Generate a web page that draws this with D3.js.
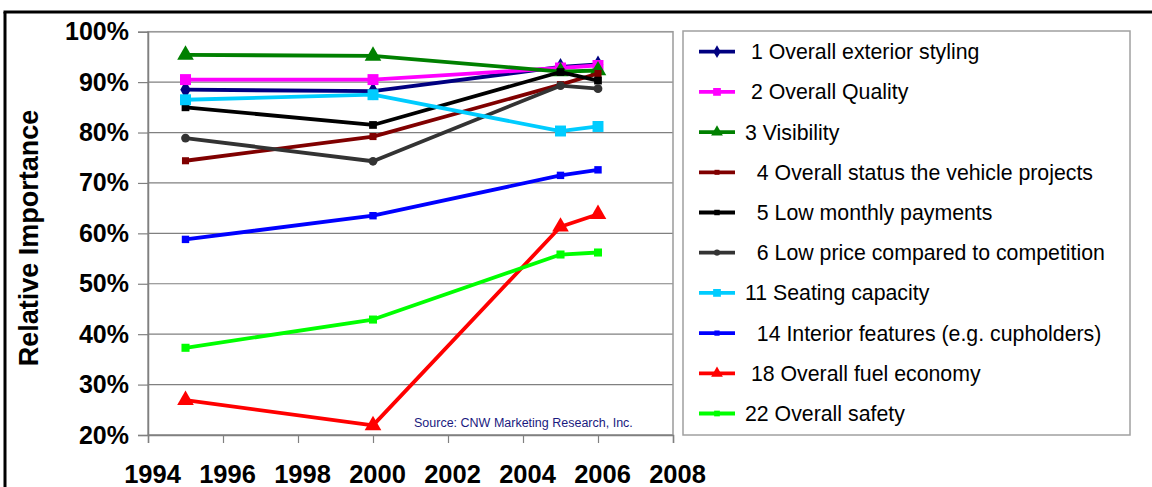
<!DOCTYPE html>
<html>
<head>
<meta charset="utf-8">
<script src="https://cdn.jsdelivr.net/npm/d3@7"></script>
<style>
  body { margin: 0; background: #fff; }
  text { font-family: Arial, "Liberation Sans", sans-serif; }
</style>
</head>
<body>
<script>
// survey years
const years = [1995, 2000, 2005, 2006];

// relative importance (%) per attribute
const exteriorStyling = [88.5, 88.2, 93.0, 93.5];
const overallQuality  = [90.5, 90.5, 92.8, 93.3];
const visibility      = [95.4, 95.2, 92.1, 92.3];
const statusProjects  = [74.4, 79.2, 89.5, 91.7];
const monthlyPayments = [85.0, 81.5, 92.0, 90.3];
const lowPrice        = [78.9, 74.3, 89.3, 88.7];
const seatingCapacity = [86.5, 87.5, 80.3, 81.2];
const interiorFeatures= [58.8, 63.5, 71.5, 72.6];
const fuelEconomy     = [26.9, 21.9, 61.3, 63.8];
const overallSafety   = [37.3, 42.9, 55.8, 56.2];

const seriesNames = [
  " 1 Overall exterior styling",
  " 2 Overall Quality",
  "3 Visibility",
  "  4 Overall status the vehicle projects",
  "  5 Low monthly payments",
  "  6 Low price compared to competition",
  "11 Seating capacity",
  "  14 Interior features (e.g. cupholders)",
  " 18 Overall fuel economy",
  "22 Overall safety"
];

const yTicks = [20, 30, 40, 50, 60, 70, 80, 90, 100];
const xTicks = [1994, 1996, 1998, 2000, 2002, 2004, 2006, 2008];

const allValues = [exteriorStyling, overallQuality, visibility, statusProjects, monthlyPayments,
                   lowPrice, seatingCapacity, interiorFeatures, fuelEconomy, overallSafety];

// look of each series: colour, symbol, symbol area
const looks = [
  {c: "#000080", s: d3.symbolDiamond, a: 95},
  {c: "#FF00FF", s: d3.symbolSquare, a: 120},
  {c: "#008000", s: d3.symbolTriangle, a: 120},
  {c: "#800000", s: d3.symbolSquare, a: 50},
  {c: "#000000", s: d3.symbolSquare, a: 60},
  {c: "#333333", s: d3.symbolCircle, a: 60},
  {c: "#00CCFF", s: d3.symbolSquare, a: 120},
  {c: "#0000FF", s: d3.symbolSquare, a: 55},
  {c: "#FF0000", s: d3.symbolTriangle, a: 120},
  {c: "#00FF00", s: d3.symbolSquare, a: 65}
];

const W = 1152, H = 487;
const plotL = 148, plotR = 673, plotT = 31.7, plotB = 435;

var svg = d3.select("body").append("svg")
  .attr("width", W).attr("height", H);

svg.append("rect").attr("width", W).attr("height", H).attr("fill", "#fff");

// outer frame (top + left only visible)
svg.append("line").attr("x1", 3.5).attr("x2", W).attr("y1", 12).attr("y2", 12)
  .attr("stroke", "#000").attr("stroke-width", 3);
svg.append("line").attr("x1", 5).attr("x2", 5).attr("y1", 12).attr("y2", H)
  .attr("stroke", "#000").attr("stroke-width", 3);

var x = d3.scaleLinear().domain([1994, 2008]).range([plotL, plotR]);
var y = d3.scaleLinear().domain([20, 100]).range([plotB, plotT]);

// gridlines
svg.append("g").selectAll("line").data(yTicks).enter().append("line")
  .attr("x1", plotL).attr("x2", plotR)
  .attr("y1", d => y(d)).attr("y2", d => y(d))
  .attr("stroke", "#808080").attr("stroke-width", 1.2);

// plot border
svg.append("rect").attr("x", plotL).attr("y", plotT)
  .attr("width", plotR - plotL).attr("height", plotB - plotT)
  .attr("fill", "none").attr("stroke", "#9a9a9a").attr("stroke-width", 1.5);

// y axis
var yAxis = svg.append("g").attr("transform", "translate(" + plotL + ",0)")
  .call(d3.axisLeft(y).tickValues(yTicks).tickSize(10).tickPadding(9)
    .tickFormat(d => d + "%"));
yAxis.select(".domain").attr("stroke", "#808080").attr("stroke-width", 1.5);
yAxis.selectAll(".tick line").attr("stroke", "#808080").attr("stroke-width", 1.2);
yAxis.selectAll("text").attr("font-size", 25).attr("font-weight", "bold")
  .attr("fill", "#000").attr("font-family", "Arial, 'Liberation Sans', sans-serif");

// x axis
var xAxis = svg.append("g").attr("transform", "translate(0," + plotB + ")")
  .call(d3.axisBottom(x).tickValues(xTicks).tickSize(8).tickPadding(22)
    .tickFormat(d3.format("d")));
xAxis.select(".domain").attr("stroke", "#808080").attr("stroke-width", 1.5);
xAxis.selectAll(".tick line").attr("stroke", "#808080").attr("stroke-width", 1.2);
xAxis.selectAll("text").attr("font-size", 25.5).attr("font-weight", "bold")
  .attr("fill", "#000").attr("dx", 4)
  .attr("font-family", "Arial, 'Liberation Sans', sans-serif");

// y title
svg.append("text")
  .attr("transform", "translate(38,238) rotate(-90)")
  .attr("text-anchor", "middle")
  .attr("font-size", 27).attr("font-weight", "bold")
  .text("Relative Importance");

// source note
svg.append("text").attr("x", 414).attr("y", 427)
  .attr("font-size", 12.5).attr("fill", "#1a1a80")
  .text("Source: CNW Marketing Research, Inc.");

var line = d3.line().x(d => x(d.year)).y(d => y(d.value));

var series = allValues.map(function(vals, i) {
  return { name: seriesNames[i], look: looks[i],
           points: years.map((yr, j) => ({year: yr, value: vals[j]})) };
});

var groups = svg.append("g").selectAll("g").data(series).enter().append("g");

groups.append("path")
  .attr("d", d => line(d.points))
  .attr("fill", "none")
  .attr("stroke", d => d.look.c)
  .attr("stroke-width", 3.8)
  .attr("stroke-linejoin", "round");

groups.each(function(d) {
  d3.select(this).selectAll("path.m").data(d.points).enter().append("path")
    .attr("class", "m")
    .attr("d", d3.symbol().type(d.look.s).size(d.look.a))
    .attr("transform", p => "translate(" + x(p.year) + "," + y(p.value) + ")")
    .attr("fill", d.look.c);
});

// legend
var lgX = 683, lgY = 31, lgW = 447, lgH = 404;
svg.append("rect").attr("x", lgX).attr("y", lgY).attr("width", lgW).attr("height", lgH)
  .attr("fill", "#fff").attr("stroke", "#a0a0a0").attr("stroke-width", 1.5);

var rowY = d3.scalePoint().domain(d3.range(series.length)).range([51.7, 413.5]);

var rows = svg.append("g").selectAll("g").data(series).enter().append("g")
  .attr("transform", (d, i) => "translate(0," + rowY(i) + ")");

rows.append("line").attr("x1", 699).attr("x2", 735)
  .attr("stroke", d => d.look.c).attr("stroke-width", 3.8);
rows.append("path")
  .attr("d", d => d3.symbol().type(d.look.s).size(d.look.a * 0.5)())
  .attr("transform", "translate(717,0)")
  .attr("fill", d => d.look.c);
rows.append("text").attr("x", 745).attr("y", 0).attr("dy", "0.35em")
  .attr("font-size", 21.3).attr("fill", "#000")
  .style("white-space", "pre")
  .text(d => d.name);
</script>
</body>
</html>
